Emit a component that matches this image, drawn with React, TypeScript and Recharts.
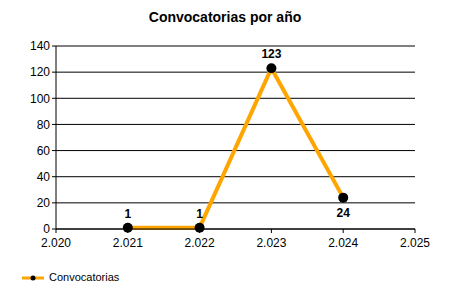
import { LineChart, Line, CartesianGrid, XAxis, YAxis, LabelList } from "recharts";

const years = [2021, 2022, 2023, 2024];
const convocatorias = [1, 1, 123, 24];
const xTicks = [2020, 2021, 2022, 2023, 2024, 2025];
const yTicks = [0, 20, 40, 60, 80, 100, 120, 140];

const data = years.map((y, i) => ({ year: y, value: convocatorias[i] }));

const font = "'Liberation Sans', Arial, sans-serif";
const fmtYear = (v: number) => `${Math.floor(v / 1000)}.${String(v % 1000).padStart(3, "0")}`;

function PointLabel(props: any) {
  const { x, y, value, index } = props;
  const below = index === convocatorias.length - 1;
  return (
    <text
      x={x}
      y={below ? y + 19 : y - 10}
      textAnchor="middle"
      fontFamily={font}
      fontSize={12}
      fontWeight="bold"
      fill="#000"
    >
      {value}
    </text>
  );
}

export default function App() {
  return (
    <div style={{ position: "absolute", left: 0, top: 0, width: 450, height: 300, background: "#fff", fontFamily: font }}>
      <div style={{ position: "absolute", top: 9, left: 0, width: 450, textAlign: "center", fontSize: 14, fontWeight: "bold" }}>
        Convocatorias por año
      </div>
      <LineChart width={450} height={300} data={data} margin={{ top: 46, right: 35, bottom: 41, left: 0 }}>
        <CartesianGrid horizontal vertical={false} stroke="#000" strokeOpacity={1} />
        <XAxis
          dataKey="year"
          type="number"
          domain={[2020, 2025]}
          ticks={xTicks}
          tickFormatter={fmtYear}
          height={30}
          stroke="#000"
          tickSize={4}
          tickMargin={5}
          tick={{ fill: "#000", fontSize: 12, fontFamily: font }}
        />
        <YAxis
          type="number"
          domain={[0, 140]}
          ticks={yTicks}
          width={56}
          stroke="#000"
          tickSize={4}
          tickMargin={2}
          tick={{ fill: "#000", fontSize: 12, fontFamily: font }}
        />
        <Line
          dataKey="value"
          stroke="#FFA500"
          strokeWidth={4}
          dot={{ r: 5, fill: "#000", stroke: "#000", strokeWidth: 0 }}
          activeDot={false}
          isAnimationActive={false}
        >
          <LabelList dataKey="value" content={PointLabel} />
        </Line>
      </LineChart>
      <svg style={{ position: "absolute", left: 20, top: 272 }} width={30} height={12}>
        <line x1={2} y1={6} x2={24} y2={6} stroke="#FFA500" strokeWidth={3} />
        <circle cx={13} cy={6} r={2.5} fill="#000" />
      </svg>
      <div style={{ position: "absolute", left: 49, top: 271, fontSize: 11 }}>Convocatorias</div>
    </div>
  );
}
